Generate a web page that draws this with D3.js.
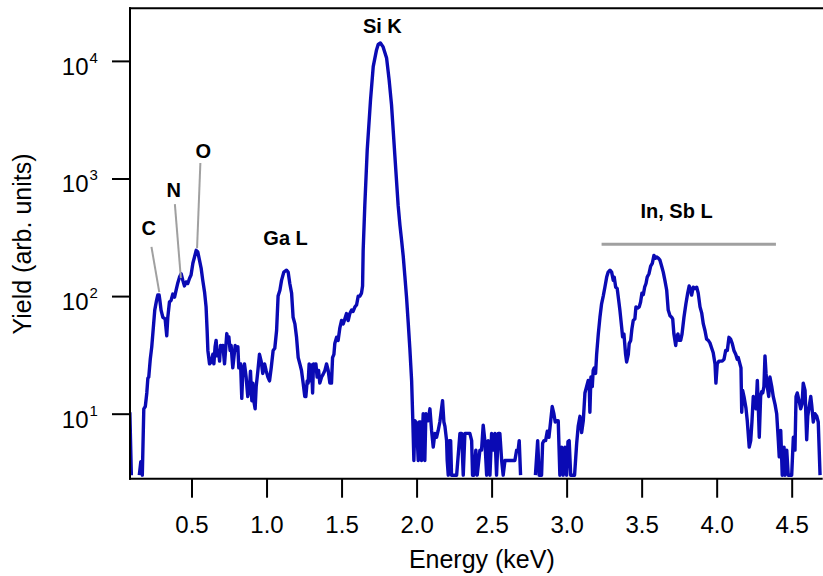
<!DOCTYPE html>
<html>
<head>
<meta charset="utf-8">
<script src="https://cdn.jsdelivr.net/npm/d3@7"></script>
<style>
  body { margin: 0; background: #fff; }
  svg { display: block; }
  text { font-family: "Liberation Sans", Arial, sans-serif; fill: #000; }
</style>
</head>
<body>
<svg id="chart" width="823" height="576"></svg>
<script>
// EDX spectrum: photon energy (keV) and detector yield (arb. units).
// A yield of 0 marks an empty channel, which leaves a gap on the log axis.
const energyKeV = [
  0.089, 0.099, 0.110, 0.140, 0.152, 0.162, 0.172, 0.182, 0.192, 0.202,
  0.209, 0.215, 0.225, 0.235, 0.244, 0.255, 0.267, 0.275, 0.284, 0.289,
  0.297, 0.309, 0.324, 0.335, 0.342, 0.353, 0.364, 0.375, 0.387, 0.397,
  0.409, 0.420, 0.431, 0.442, 0.453, 0.464, 0.475, 0.487, 0.497, 0.509,
  0.520, 0.531, 0.542, 0.553, 0.564, 0.575, 0.587, 0.597, 0.604, 0.609,
  0.620, 0.631, 0.642, 0.649, 0.657, 0.664, 0.671, 0.680, 0.687, 0.693,
  0.702, 0.709, 0.720, 0.727, 0.735, 0.742, 0.749, 0.757, 0.764, 0.775,
  0.782, 0.791, 0.797, 0.809, 0.815, 0.827, 0.835, 0.842, 0.853, 0.864,
  0.875, 0.887, 0.893, 0.902, 0.909, 0.915, 0.924, 0.931, 0.942, 0.953,
  0.964, 0.975, 0.987, 0.997, 1.009, 1.020, 1.031, 1.044, 1.055, 1.067,
  1.077, 1.089, 1.100, 1.115, 1.133, 1.144, 1.155, 1.167, 1.177, 1.189,
  1.200, 1.211, 1.222, 1.233, 1.244, 1.255, 1.262, 1.271, 1.277, 1.284,
  1.293, 1.300, 1.307, 1.313, 1.322, 1.329, 1.337, 1.347, 1.355, 1.367,
  1.377, 1.389, 1.400, 1.411, 1.422, 1.433, 1.440, 1.449, 1.455, 1.467,
  1.477, 1.489, 1.500, 1.511, 1.522, 1.533, 1.544, 1.555, 1.567, 1.577,
  1.589, 1.600, 1.611, 1.622, 1.633, 1.640, 1.644, 1.655, 1.671, 1.693,
  1.711, 1.733, 1.744, 1.759, 1.777, 1.800, 1.817, 1.833, 1.855, 1.877,
  1.889, 1.900, 1.911, 1.922, 1.933, 1.944, 1.955, 1.967, 1.975, 1.982,
  1.989, 2.000, 2.011, 2.017, 2.027, 2.033, 2.044, 2.055, 2.062, 2.077,
  2.089, 2.100, 2.111, 2.122, 2.133, 2.144, 2.155, 2.173, 2.182, 2.189,
  2.200, 2.204, 2.211, 2.217, 2.227, 2.233, 2.244, 2.255, 2.267, 2.289,
  2.300, 2.311, 2.322, 2.333, 2.344, 2.355, 2.367, 2.373, 2.382, 2.395,
  2.404, 2.422, 2.433, 2.444, 2.455, 2.467, 2.477, 2.489, 2.500, 2.511,
  2.522, 2.533, 2.544, 2.555, 2.567, 2.577, 2.589, 2.600, 2.611, 2.622,
  2.633, 2.644, 2.655, 2.667, 2.677, 2.684, 2.693, 2.700, 2.780, 2.792,
  2.807, 2.817, 2.833, 2.840, 2.849, 2.860, 2.871, 2.882, 2.893, 2.904,
  2.915, 2.924, 2.933, 2.944, 2.955, 2.967, 2.977, 2.989, 3.000, 3.009,
  3.017, 3.027, 3.040, 3.053, 3.067, 3.077, 3.089, 3.100, 3.111, 3.122,
  3.133, 3.144, 3.151, 3.155, 3.162, 3.171, 3.177, 3.184, 3.193, 3.200,
  3.211, 3.222, 3.233, 3.244, 3.255, 3.267, 3.277, 3.289, 3.300, 3.311,
  3.317, 3.327, 3.337, 3.347, 3.355, 3.367, 3.373, 3.382, 3.393, 3.400,
  3.411, 3.417, 3.427, 3.435, 3.444, 3.455, 3.462, 3.473, 3.484, 3.493,
  3.502, 3.511, 3.520, 3.529, 3.537, 3.549, 3.560, 3.571, 3.582, 3.593,
  3.600, 3.611, 3.622, 3.633, 3.644, 3.655, 3.667, 3.677, 3.689, 3.700,
  3.707, 3.715, 3.727, 3.733, 3.742, 3.749, 3.760, 3.769, 3.782, 3.795,
  3.807, 3.817, 3.827, 3.833, 3.844, 3.855, 3.867, 3.877, 3.889, 3.900,
  3.911, 3.922, 3.933, 3.944, 3.955, 3.967, 3.977, 3.989, 3.995, 4.004,
  4.015, 4.027, 4.037, 4.049, 4.060, 4.071, 4.082, 4.093, 4.104, 4.115,
  4.127, 4.137, 4.144, 4.155, 4.162, 4.167, 4.173, 4.182, 4.195, 4.204,
  4.217, 4.227, 4.235, 4.244, 4.255, 4.262, 4.271, 4.277, 4.284, 4.293,
  4.300, 4.307, 4.315, 4.322, 4.329, 4.337, 4.347, 4.355, 4.367, 4.377,
  4.389, 4.400, 4.411, 4.417, 4.427, 4.437, 4.449, 4.455, 4.467, 4.477,
  4.489, 4.500, 4.511, 4.522, 4.529, 4.537, 4.549, 4.560, 4.569, 4.577,
  4.589, 4.600, 4.607, 4.615, 4.627, 4.633, 4.644, 4.655, 4.667, 4.677,
  4.689
];

const yieldCounts = [
  10.3, 3, 0, 0, 3, 3.9, 3, 11, 11.5, 15,
  20, 20.5, 29, 37, 51, 76, 92, 102, 102, 92,
  76, 66, 64, 46, 66, 89, 92, 104, 98, 112,
  130, 145, 155, 136, 122, 132, 128, 142, 151, 190,
  215, 245, 237, 202, 173, 136, 108, 81, 51, 34.5,
  26.5, 27.5, 32, 26.5, 37, 42, 31, 34.5, 28, 38,
  34.5, 38, 26.5, 34.5, 48, 42, 45, 34.5, 38, 24.5,
  29.5, 38, 34.5, 37, 24.5, 26.5, 13.5, 23, 26.5, 20.5,
  14, 17, 23, 12.9, 18.2, 12.9, 11, 17, 23, 32,
  28, 22, 26.5, 23.3, 20.5, 19, 24.5, 34.5, 36, 51,
  100, 112, 136, 160, 166, 160, 128, 106, 66, 58,
  44.6, 30, 26.5, 23.3, 18.2, 14, 14, 19, 18.2, 26.5,
  19, 26, 15, 26.5, 23.3, 26.5, 20.5, 23.3, 18.2, 20.5,
  21.6, 23.3, 26.5, 23.3, 18.2, 18.2, 30, 32, 39.5, 44.6,
  42, 54, 62, 58, 64, 71, 62, 71, 76, 74,
  81, 84, 100, 100, 106, 122, 245, 593, 1746, 4650,
  8940, 12400, 13800, 14200, 13150, 10600, 6890, 4220, 1580, 593,
  401, 299, 218, 147, 98, 60, 36, 19, 8.7, 4,
  8.7, 8.3, 4, 8.5, 8.5, 4, 10, 4, 10, 8.7,
  11, 7.2, 5.2, 6.8, 6.3, 7.2, 8.5, 12.9, 8.5, 7.8,
  5.9, 4, 3, 5.9, 5.9, 3, 3, 3, 3, 6.8,
  6.8, 3, 6.8, 6.8, 6.8, 6.8, 5.9, 3, 3, 4.9,
  3, 4.9, 4.9, 8, 5.9, 3, 5.9, 3, 6.8, 4.9,
  6.8, 3, 6.8, 6.8, 4, 3, 4, 4, 4, 4,
  4, 4, 4, 4.9, 4.9, 5.9, 3, 0, 0, 3,
  5.9, 3, 3, 5.6, 5.9, 5.9, 7.1, 6.3, 8.5, 11.5,
  10, 8.5, 8.7, 8.7, 3, 5.2, 3, 5.2, 3, 5.8,
  5.9, 3, 3, 3, 5.6, 7.8, 9.5, 6.9, 8.7, 15,
  17, 19.2, 17, 10.3, 20.5, 17, 23.3, 24.5, 22, 32,
  47.5, 66, 86, 100, 119, 145, 160, 166, 160, 136,
  145, 119, 116, 92, 76, 54, 45, 47.5, 32, 27.5,
  32, 39.5, 42, 52.5, 62, 64, 81, 79, 81, 89,
  106, 103, 119, 128, 145, 155, 180, 190, 222, 210,
  215, 210, 202, 180, 160, 136, 112, 76, 68, 66,
  64, 47.5, 38, 45, 47.5, 42, 42, 47.5, 66, 86,
  106, 122, 112, 102, 119, 116, 119, 106, 81, 72,
  58, 51, 43, 42, 40, 36, 33, 26.5, 18.2, 26.5,
  28, 28, 28, 29, 34.5, 34.5, 44.6, 43, 39.5, 34.5,
  32, 29, 30, 26.5, 24.5, 10.3, 15.8, 14, 11.2, 8.7,
  5.2, 5.9, 8.5, 14, 12, 11, 19.2, 12, 6.3, 14,
  15.4, 15, 17, 31, 22, 17, 14, 20.5, 17, 14,
  12, 10, 5.9, 4.3, 7.2, 3, 5.2, 3, 4.9, 3,
  3, 3, 6.3, 4.9, 14, 15, 12.9, 11, 12, 18.2,
  15.8, 6, 9.5, 11.2, 14, 12, 8.5, 10, 9.5, 8.5,
  3
];

// Axis ticks
const xMajorTicks = [0.5, 1.0, 1.5, 2.0, 2.5, 3.0, 3.5, 4.0, 4.5];
const xMinorTicks = [0.1, 0.2, 0.3, 0.4, 0.6, 0.7, 0.8, 0.9, 1.1, 1.2, 1.3, 1.4,
  1.6, 1.7, 1.8, 1.9, 2.1, 2.2, 2.3, 2.4, 2.6, 2.7, 2.8, 2.9, 3.1, 3.2, 3.3, 3.4,
  3.6, 3.7, 3.8, 3.9, 4.1, 4.2, 4.3, 4.4, 4.6, 4.7];
const yTicks = [10, 100, 1000, 10000];
const yTickExponents = ["1", "2", "3", "4"];

// Peak labels: text, energy and yield of the label anchor
const peakLabels = ["C", "N", "O", "Ga L", "Si K", "In, Sb L"];
const peakLabelEnergy = [0.215, 0.382, 0.579, 1.127, 1.772, 3.733];
const peakLabelYield = [330, 694, 1492, 271, 17200, 457];

// Leader lines from the light-element labels down to their peaks
const leaderFrom = [[0.233, 262], [0.389, 605], [0.559, 1353]];
const leaderTo = [[0.285, 108], [0.429, 142], [0.537, 255]];

// Energy span marked for the In / Sb L lines
const bracketEnergy = [3.233, 4.395];
const bracketYield = 276;

const svg = d3.select("#chart");
const plotLeft = 130, plotRight = 821.7, plotTop = 8.3, plotBottom = 478.7;

const x = d3.scaleLinear().domain([0.09, 4.7]).range([plotLeft, plotRight]);
const y = d3.scaleLog().domain([2.8, 28000]).range([plotBottom, plotTop]);

svg.append("defs").append("clipPath").attr("id", "plotClip")
  .append("rect").attr("x", plotLeft).attr("y", plotTop)
  .attr("width", plotRight - plotLeft + 1).attr("height", plotBottom - plotTop);

// Spectrum trace
const points = energyKeV.map((e, i) => ({ e, v: yieldCounts[i] }));
const line = d3.line()
  .defined(d => d.v > 0)
  .x(d => x(d.e))
  .y(d => y(d.v));

svg.append("path")
  .datum(points)
  .attr("clip-path", "url(#plotClip)")
  .attr("d", line)
  .attr("fill", "none")
  .attr("stroke", "#0a0ab4")
  .attr("stroke-width", 3.4)
  .attr("stroke-linejoin", "round");

// Annotation leaders and bracket
const grey = "#a0a0a0";
leaderFrom.forEach((p, i) => {
  svg.append("line")
    .attr("x1", x(p[0])).attr("y1", y(p[1]))
    .attr("x2", x(leaderTo[i][0])).attr("y2", y(leaderTo[i][1]))
    .attr("stroke", grey).attr("stroke-width", 2);
});
svg.append("line")
  .attr("x1", x(bracketEnergy[0])).attr("x2", x(bracketEnergy[1]))
  .attr("y1", y(bracketYield)).attr("y2", y(bracketYield))
  .attr("stroke", grey).attr("stroke-width", 3);

peakLabels.forEach((t, i) => {
  svg.append("text")
    .attr("x", x(peakLabelEnergy[i]))
    .attr("y", y(peakLabelYield[i]))
    .attr("text-anchor", "middle")
    .attr("font-size", 20)
    .attr("font-weight", "bold")
    .text(t);
});

// X axis
const xAxisG = svg.append("g").attr("transform", `translate(0,${plotBottom})`);
xAxisG.call(d3.axisBottom(x).tickValues(xMinorTicks).tickSize(10).tickSizeOuter(0).tickFormat(""));
xAxisG.call(d3.axisBottom(x).tickValues(xMajorTicks).tickSize(19).tickSizeOuter(0)
  .tickFormat(d3.format(".1f")));
xAxisG.selectAll("path.domain").attr("stroke", "#000").attr("stroke-width", 2)
  .attr("d", `M${plotLeft - 1},0H${plotRight + 1}`);
xAxisG.selectAll(".tick line").attr("stroke", "#000").attr("stroke-width", 2);
xAxisG.selectAll(".tick text")
  .attr("y", 54).attr("dy", 0)
  .attr("font-size", 24)
  .attr("font-family", "'Liberation Sans', Arial, sans-serif")
  .attr("fill", "#000");

// Y axis
const yAxisG = svg.append("g").attr("transform", `translate(${plotLeft},0)`);
yAxisG.call(d3.axisLeft(y).tickValues(yTicks).tickSize(18).tickSizeOuter(0).tickFormat(""));
yAxisG.selectAll("path.domain").attr("stroke", "#000").attr("stroke-width", 2)
  .attr("d", `M0,${plotTop - 1}V${plotBottom + 1}`);
yAxisG.selectAll(".tick line").attr("stroke", "#000").attr("stroke-width", 2);

yTicks.forEach((v, i) => {
  svg.append("text")
    .attr("x", 88.5).attr("y", y(v) + 14)
    .attr("text-anchor", "end")
    .attr("font-size", 24)
    .text("10");
  svg.append("text")
    .attr("x", 89.5).attr("y", y(v) + 2)
    .attr("font-size", 15)
    .text(yTickExponents[i]);
});

// Frame top edge
svg.append("line")
  .attr("x1", plotLeft - 1).attr("x2", 823)
  .attr("y1", plotTop).attr("y2", plotTop)
  .attr("stroke", "#000").attr("stroke-width", 2);

// Axis titles
svg.append("text")
  .attr("x", (plotLeft + plotRight) / 2 + 6).attr("y", 568)
  .attr("text-anchor", "middle")
  .attr("font-size", 25)
  .text("Energy (keV)");

svg.append("text")
  .attr("transform", "translate(31,244) rotate(-90)")
  .attr("text-anchor", "middle")
  .attr("font-size", 25)
  .text("Yield (arb. units)");
</script>
</body>
</html>
